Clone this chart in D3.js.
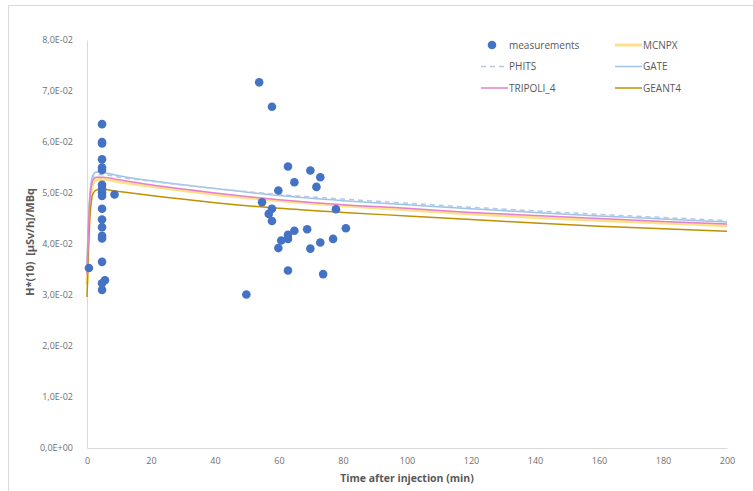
<!DOCTYPE html>
<html lang="en">
<head>
    <meta charset="UTF-8">
    <title>H*(10) vs time after injection</title>
    <script src="https://d3js.org/d3.v7.min.js"></script>
    <style>
        body { margin: 0; background: #fff; }
        text { font-family: "Liberation Sans Narrow", "Open Sans", sans-serif; fill: #595959; }
    </style>
</head>
<body>
    <script>
        // measured points (time in min, H*(10) in µSv/h per MBq)
        const measTime = [0.6,
            4.7, 4.7, 4.7, 4.7, 4.7, 4.7, 4.7, 4.7, 4.7, 4.7, 4.7, 4.7, 4.7, 4.7, 4.7, 4.7, 4.7, 4.7,
            5.6, 8.6,
            53.8, 57.8, 62.8, 69.8, 72.9, 64.8, 71.7, 59.8, 54.7, 77.8, 57.8, 56.8, 57.8,
            80.9, 64.8, 68.8, 62.8, 62.8, 60.7, 76.9, 72.9, 59.8, 69.8, 62.8, 73.8, 49.8];
        const measValue = [0.0353,
            0.0635, 0.0600, 0.0597, 0.0566, 0.0550, 0.0545, 0.0516, 0.0509, 0.0501, 0.0494, 0.0469, 0.0448, 0.0433, 0.0416, 0.0411, 0.0365, 0.0323, 0.0310,
            0.0329, 0.0497,
            0.0717, 0.0669, 0.0552, 0.0544, 0.0531, 0.0521, 0.0512, 0.0505, 0.0482, 0.0468, 0.0469, 0.0459, 0.0445,
            0.0431, 0.0426, 0.0429, 0.0418, 0.0410, 0.0407, 0.0410, 0.0403, 0.0392, 0.0391, 0.0348, 0.0341, 0.0301];

        // simulated curves, sampled at these times
        const simTime = [0, 0.5, 1, 1.5, 2, 3, 5, 10, 20, 40, 60, 80, 100, 120, 140, 160, 180, 200];
        const mcnpx   = [0.0320, 0.0420, 0.0485, 0.0510, 0.0520, 0.0526, 0.0527, 0.0522, 0.0513, 0.0497, 0.0485, 0.0475, 0.0467, 0.0459, 0.0452, 0.0446, 0.0441, 0.0436];
        const phits   = [0.0350, 0.0445, 0.0500, 0.0524, 0.0532, 0.0536, 0.0536, 0.0531, 0.0523, 0.0509, 0.0497, 0.0488, 0.0480, 0.0472, 0.0465, 0.0458, 0.0452, 0.0446];
        const gate    = [0.0360, 0.0450, 0.0505, 0.0528, 0.0537, 0.0541, 0.0540, 0.0534, 0.0524, 0.0509, 0.0495, 0.0485, 0.0477, 0.0469, 0.0462, 0.0455, 0.0449, 0.0443];
        const tripoli = [0.0340, 0.0440, 0.0495, 0.0518, 0.0527, 0.0531, 0.0531, 0.0526, 0.0516, 0.0500, 0.0487, 0.0477, 0.0470, 0.0462, 0.0456, 0.0450, 0.0444, 0.0439];
        const geant4  = [0.0296, 0.0400, 0.0462, 0.0490, 0.0500, 0.0506, 0.0507, 0.0503, 0.0495, 0.0481, 0.0470, 0.0462, 0.0455, 0.0448, 0.0441, 0.0435, 0.0430, 0.0425];

        const xTicks = [0, 20, 40, 60, 80, 100, 120, 140, 160, 180, 200];
        const yTicks = [0, 0.01, 0.02, 0.03, 0.04, 0.05, 0.06, 0.07, 0.08];

        const W = 753, H = 491;
        const svg = d3.select("body").append("svg")
            .attr("width", W)
            .attr("height", H);

        svg.append("rect").attr("width", W).attr("height", H).attr("fill", "#fff");
        // chart area border (only left and top edges visible)
        svg.append("path")
            .attr("d", `M8.5,${H} V5.5 H${W}`)
            .attr("fill", "none")
            .attr("stroke", "#d9d9d9");

        const x = d3.scaleLinear().domain([0, 200]).range([87, 727]);
        const y = d3.scaleLinear().domain([0, 0.08]).range([448, 40]);

        function sci(v) {
            if (v === 0) return "0,0E+00";
            const e = Math.floor(Math.log10(v) + 1e-9);
            const m = v / Math.pow(10, e);
            const s = e < 0 ? "-" : "+";
            return m.toFixed(1).replace(".", ",") + "E" + s + String(Math.abs(e)).padStart(2, "0");
        }

        const xAxis = svg.append("g")
            .attr("transform", `translate(0,${y(0)})`)
            .call(d3.axisBottom(x).tickValues(xTicks).tickSize(0).tickPadding(10));
        xAxis.select(".domain").attr("stroke", "#d9d9d9");
        xAxis.selectAll("text").style("font-size", "9px").style("fill", "#6f6f6f");

        const yAxis = svg.append("g")
            .attr("transform", `translate(${x(0)},0)`)
            .call(d3.axisLeft(y).tickValues(yTicks).tickFormat(sci).tickSize(0).tickPadding(14));
        yAxis.select(".domain").attr("stroke", "#d9d9d9");
        yAxis.selectAll("text").style("font-size", "9px").style("fill", "#6f6f6f");

        svg.append("text")
            .attr("x", 407).attr("y", 482)
            .attr("text-anchor", "middle")
            .style("font-size", "10.5px").style("font-weight", "bold")
            .text("Time after injection (min)");

        svg.append("text")
            .attr("transform", "translate(34,242) rotate(-90)")
            .attr("text-anchor", "middle")
            .style("font-size", "11px").style("font-weight", "bold")
            .style("white-space", "pre")
            .text("H*(10)  [µSv/h]/MBq");

        const series = [
            { name: "MCNPX", values: mcnpx, color: "#ffe08a", width: 3, dash: null },
            { name: "GEANT4", values: geant4, color: "#bf9000", width: 1.5, dash: null },
            { name: "GATE", values: gate, color: "#9dc3e6", width: 1.5, dash: null },
            { name: "PHITS", values: phits, color: "#b4c7e7", width: 1.5, dash: "5,4" },
            { name: "TRIPOLI_4", values: tripoli, color: "#e57fcf", width: 1.5, dash: null }
        ];

        const line = d3.line()
            .x(d => x(d[0]))
            .y(d => y(d[1]))
            .curve(d3.curveMonotoneX);

        series.forEach(s => {
            svg.append("path")
                .datum(simTime.map((t, i) => [t, s.values[i]]))
                .attr("d", line)
                .attr("fill", "none")
                .attr("stroke", s.color)
                .attr("stroke-width", s.width)
                .attr("stroke-dasharray", s.dash);
        });

        svg.selectAll("circle.meas")
            .data(measTime.map((t, i) => [t, measValue[i]]))
            .enter()
            .append("circle")
            .attr("class", "meas")
            .attr("cx", d => x(d[0]))
            .attr("cy", d => y(d[1]))
            .attr("r", 4.3)
            .attr("fill", "#4472c4");

        // legend
        const legendItems = [
            { name: "measurements", type: "dot", col: 0, row: 0 },
            { name: "MCNPX", col: 1, row: 0 },
            { name: "PHITS", col: 0, row: 1 },
            { name: "GATE", col: 1, row: 1 },
            { name: "TRIPOLI_4", col: 0, row: 2 },
            { name: "GEANT4", col: 1, row: 2 }
        ];
        const legend = svg.append("g");
        legendItems.forEach(it => {
            const lx = it.col === 0 ? 481 : 615;
            const ly = 45 + it.row * 21.5;
            const g = legend.append("g").attr("transform", `translate(${lx},${ly})`);
            if (it.type === "dot") {
                g.append("circle").attr("cx", 11).attr("cy", 0).attr("r", 4.3).attr("fill", "#4472c4");
            } else {
                const s = series.find(d => d.name === it.name);
                g.append("line")
                    .attr("x1", 0).attr("x2", 27).attr("y1", 0).attr("y2", 0)
                    .attr("stroke", s.color)
                    .attr("stroke-width", s.width)
                    .attr("stroke-dasharray", s.dash);
            }
            g.append("text")
                .attr("x", 28)
                .attr("y", 0)
                .attr("dy", "0.35em")
                .style("font-size", "10px")
                .text(it.name);
        });
    </script>
</body>
</html>
